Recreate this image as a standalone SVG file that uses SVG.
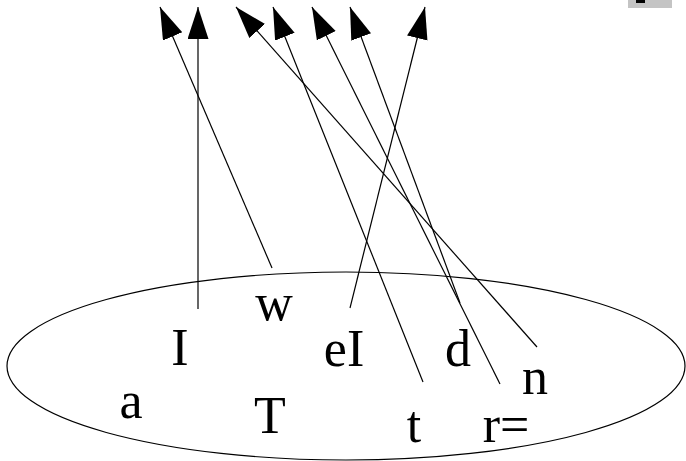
<svg xmlns="http://www.w3.org/2000/svg" width="686" height="461" viewBox="0 0 686 461">
<style>
.lbl{font-family:"Liberation Serif","Times New Roman",serif;font-size:52px;fill:#000;text-anchor:middle}
.edge{stroke:#000;stroke-width:1.2;fill:none;marker-end:url(#ah)}
</style>
<defs>
<marker id="ah" markerUnits="userSpaceOnUse" markerWidth="33" markerHeight="22" refX="32" refY="10.5" orient="auto" viewBox="0 0 33 22">
<path d="M0,0 L32,10.5 L0,21 z" fill="#000"/>
</marker>
</defs>
<rect x="0" y="0" width="686" height="461" fill="#fff"/>
<g id="badge">
<rect x="628" y="0" width="44" height="8" fill="#c4c4c4"/>
<rect x="636" y="0" width="9" height="3" fill="#000"/>
</g>
<g id="set">
<ellipse cx="346" cy="366" rx="339" ry="94" fill="none" stroke="#000" stroke-width="1.2"/>
</g>
<g id="n-a"><text class="lbl" x="131" y="418">a</text></g>
<g id="n-I"><text class="lbl" x="180" y="365">I</text></g>
<g id="n-w"><text class="lbl" x="274" y="320">w</text></g>
<g id="n-T"><text class="lbl" x="270" y="433">T</text></g>
<g id="n-eI"><text class="lbl" x="344" y="366">eI</text></g>
<g id="n-t"><text class="lbl" x="414" y="442">t</text></g>
<g id="n-d"><text class="lbl" x="458" y="366">d</text></g>
<g id="n-r"><text class="lbl" x="506" y="442">r=</text></g>
<g id="n-n"><text class="lbl" x="535" y="394">n</text></g>
<g id="connectors">
<line class="edge" x1="272" y1="268" x2="160" y2="7"/>
<line class="edge" x1="198" y1="309" x2="198" y2="7"/>
<line class="edge" x1="537" y1="347" x2="236" y2="7"/>
<line class="edge" x1="423" y1="382" x2="273" y2="7"/>
<line class="edge" x1="500" y1="384" x2="312" y2="7"/>
<line class="edge" x1="460" y1="303" x2="350" y2="7"/>
<line class="edge" x1="350" y1="308" x2="425" y2="7"/>
</g>
</svg>
